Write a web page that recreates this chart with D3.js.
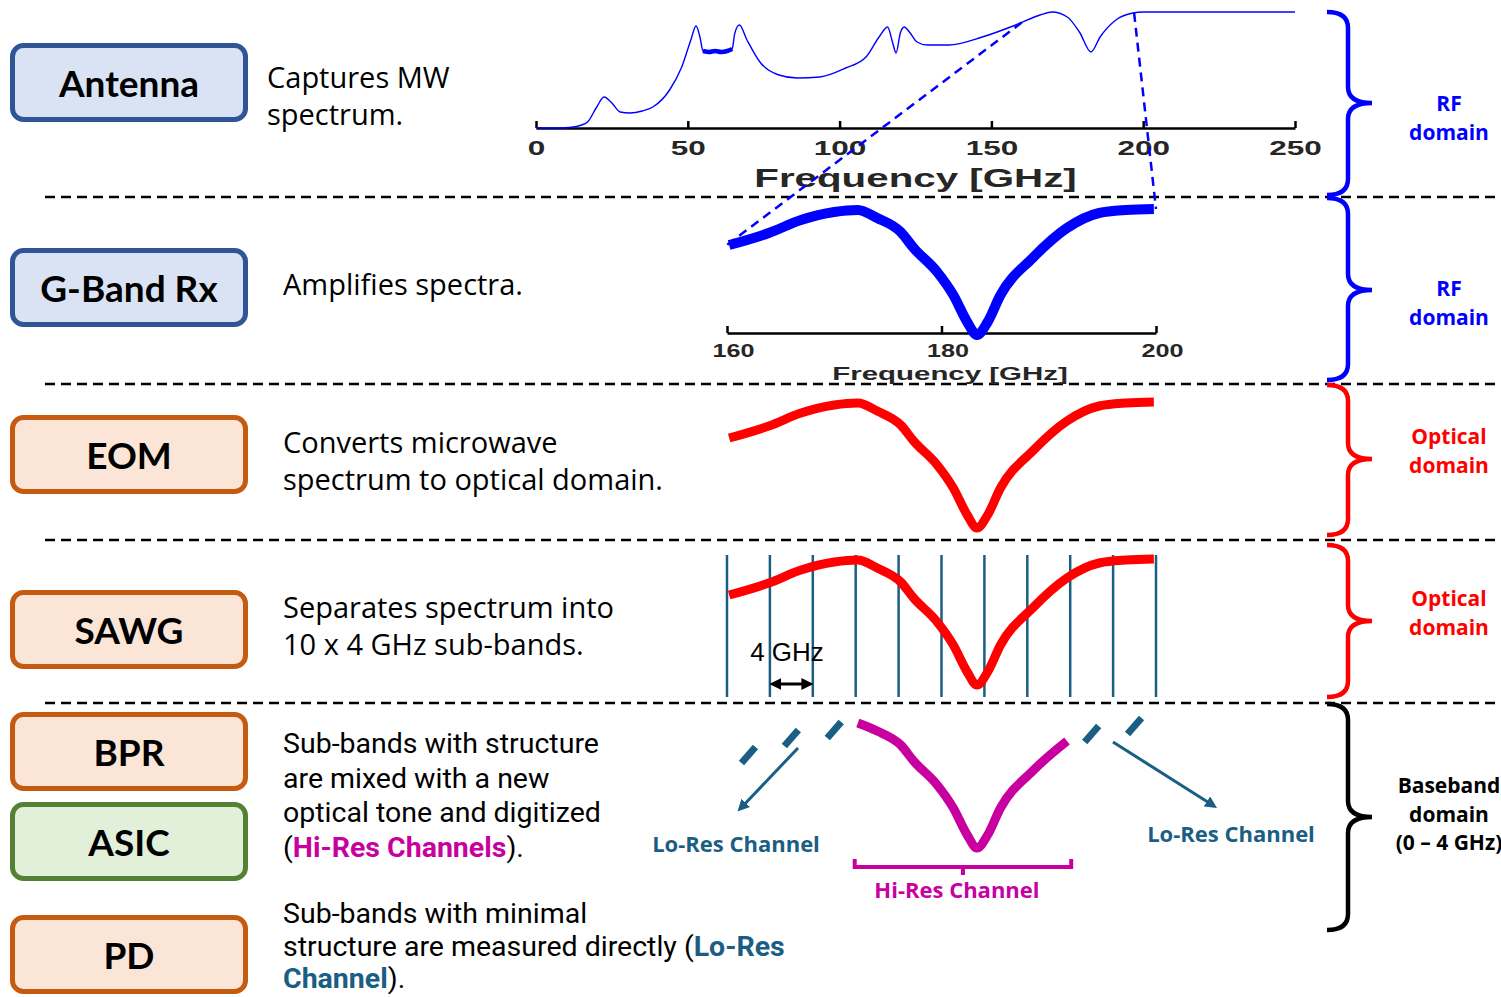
<!DOCTYPE html>
<html>
<head>
<meta charset="utf-8">
<script src="https://cdn.jsdelivr.net/npm/d3@7"></script>
<style>
  body { margin: 0; background: #fff; }
  svg { display: block; }
</style>
</head>
<body>
<script>
// ---- data ----
var blocks = ["Antenna", "G-Band Rx", "EOM", "SAWG", "BPR", "ASIC", "PD"];
var blockKind = ["rf", "rf", "opt", "opt", "opt", "asic", "opt"];

// "|" toggles the highlighted (bold, coloured) part
var descText = [
  ["Captures MW", "spectrum."],
  ["Amplifies spectra."],
  ["Converts microwave", "spectrum to optical domain."],
  ["Separates spectrum into", "10 x 4 GHz sub-bands."],
  ["Sub-bands with structure", "are mixed with a new", "optical tone and digitized", "(|Hi-Res Channels|)."],
  ["Sub-bands with minimal", "structure are measured directly (|Lo-Res", "Channel|)."]
];

var domainNames = [["RF", "domain"], ["RF", "domain"], ["Optical", "domain"], ["Optical", "domain"],
  ["Baseband", "domain", "(0 \u2013 4 GHz)"]];

// RF spectrum seen by the antenna: [GHz, amplitude]
var rfTicks = [0, 50, 100, 150, 200, 250];
var rfSpectrum = [
  [0, 0], [8, 0], [11, 0.5], [15, 3], [17, 6], [20, 21], [22.4, 31], [25, 25], [27.7, 16], [31, 15],
  [35, 17], [38.5, 21], [44, 38], [48, 61], [51, 88], [52.7, 102], [54, 91], [55, 77], [57, 76],
  [59, 77], [61, 76], [63, 77], [64.6, 79], [65.5, 95], [67, 103], [69.5, 88], [74, 65], [80, 53],
  [86, 50], [93.5, 51], [102, 60], [108.7, 71], [113, 91], [115.8, 101], [117.5, 85], [118.6, 75],
  [120, 95], [121.3, 101], [123, 96], [125.5, 86], [128.8, 83], [136, 83], [147, 91], [158, 103],
  [166, 113], [170, 116], [175, 111], [179, 96], [182.8, 76], [185.8, 91], [191, 108], [196.6, 115],
  [200, 116], [250, 116]
];
var rfPlateau = [55, 64.6];

// G-band zoom: [GHz, amplitude]
var gbTicks = [160, 180, 200];
var gbSpectrum = [
  [160.2, 95], [163.9, 107], [166.9, 120], [170, 128], [172.2, 130], [174, 122], [176.2, 108],
  [177.4, 92], [179.6, 68], [181.1, 45], [182.4, 18], [183.3, 5], [184.3, 18], [185.5, 45],
  [188.5, 82], [191.7, 112], [194.7, 127], [197.2, 130], [199.8, 131]
];
// zoom links: RF GHz -> G-band GHz
var zoomFrom = [160, 197];
var zoomTo = [160, 200];

var subBandEdges = [160, 164, 168, 172, 176, 180, 184, 188, 192, 196, 200];
var hiResBand = [172, 192];
var loResCenters = [162, 166, 170, 194, 198];
var loResLevel = [101, 118, 126, 122, 130];

// ---- layout ----
var W = 1501, H = 997;
var blockTop = [43, 248, 415, 590, 712, 802, 915];
var descX = [267, 283, 283, 283, 283, 283];
var descY = [88, 295, 453, 618, 753, 923];
var descGap = [37, 37, 37, 37, 34.7, 32.5];
var descHi = [null, null, null, null, "#c8009f", "#1b5e83"];
var sepY = [197, 384, 540, 703];
var braceSpan = [[12, 195, 103], [198, 380, 290], [385, 535, 459], [545, 697, 621], [704, 930, 817]];
var domainY = [103, 288, 436, 598, 785];
var domainColor = ["#0000ff", "#0000ff", "#ff0000", "#ff0000", "#000000"];
var gBase = 340, eomBase = 533, sawgBase = 690, bbBase = 853, loBase = 856;

var teal = "#1b5e83", magenta = "#c8009f";

var svg = d3.select("body").append("svg").attr("width", W).attr("height", H);
var defs = svg.append("defs");

function marker(id, color) {
  defs.append("marker").attr("id", id)
    .attr("viewBox", "0 0 10 10").attr("refX", 7).attr("refY", 5)
    .attr("markerWidth", 4).attr("markerHeight", 4)
    .attr("orient", "auto-start-reverse")
    .append("path").attr("d", "M0,0 L10,5 L0,10 z").attr("fill", color);
}
marker("arrBlack", "#000");
marker("arrTeal", teal);

// separators
svg.selectAll(".sep").data(sepY).enter().append("line")
  .attr("x1", 45).attr("x2", W)
  .attr("y1", function(d) { return d; }).attr("y2", function(d) { return d; })
  .attr("stroke", "#000").attr("stroke-width", 2.5).attr("stroke-dasharray", "10,6");

// blocks
var blockStyle = {
  rf: { fill: "#dae3f3", stroke: "#2f5597" },
  opt: { fill: "#fbe5d6", stroke: "#c55a11" },
  asic: { fill: "#e2f0d9", stroke: "#548235" }
};
var bg = svg.selectAll(".block").data(blocks).enter().append("g");
bg.append("rect")
  .attr("x", 12.5).attr("y", function(d, i) { return blockTop[i] + 2.5; })
  .attr("width", 233).attr("height", 74).attr("rx", 11)
  .attr("fill", function(d, i) { return blockStyle[blockKind[i]].fill; })
  .attr("stroke", function(d, i) { return blockStyle[blockKind[i]].stroke; })
  .attr("stroke-width", 5);
bg.append("text")
  .attr("x", 129).attr("y", function(d, i) { return blockTop[i] + 39.5; })
  .attr("text-anchor", "middle").attr("dominant-baseline", "central")
  .style("font-family", "Lato").style("font-weight", 700).style("font-size", "37px")
  .text(function(d) { return d; });

// descriptions
descText.forEach(function(lines, i) {
  var t = svg.append("text")
    .attr("x", descX[i]).attr("y", descY[i])
    .style("font-family", i < 4 ? "'Open Sans'" : "Roboto")
    .style("font-size", i < 4 ? "29px" : "28.5px")
    .attr("fill", "#000");
  var hi = false;
  lines.forEach(function(line, j) {
    line.split("|").forEach(function(p, k) {
      if (k > 0) hi = !hi;
      var ts = t.append("tspan").text(p);
      if (k === 0) ts.attr("x", descX[i]).attr("y", descY[i] + j * descGap[i]);
      if (hi) ts.attr("fill", descHi[i]).style("font-weight", 700);
    });
  });
});

// ---- RF spectrum plot ----
var xRF = d3.scaleLinear().domain([0, 250]).range([536, 1295]);
var yRF = d3.scaleLinear().domain([0, 120]).range([128, 8]);
var rfLine = d3.line().x(function(d) { return xRF(d[0]); }).y(function(d) { return yRF(d[1]); })
  .curve(d3.curveMonotoneX);

var axRF = svg.append("g").attr("transform", "translate(0,128)")
  .call(d3.axisBottom(xRF).tickValues(rfTicks).tickSize(-7).tickSizeOuter(0));
axRF.select(".domain").attr("stroke-width", 2.5).attr("stroke", "#000");
axRF.selectAll(".tick line").attr("stroke-width", 2.5).attr("stroke", "#000");
axRF.selectAll(".tick text")
  .attr("y", 0).attr("dy", 0)
  .attr("transform", "translate(0,27) scale(1.5,1)")
  .attr("fill", "#262626")
  .style("font-family", "'Liberation Sans', Arial").style("font-weight", 700).style("font-size", "21px");
svg.append("text")
  .attr("transform", "translate(" + ((xRF.range()[0] + xRF.range()[1]) / 2) + ",187) scale(1.55,1)")
  .attr("text-anchor", "middle").attr("fill", "#262626")
  .style("font-family", "'Liberation Sans', Arial").style("font-weight", 700).style("font-size", "26px")
  .text("Frequency [GHz]");

svg.append("path").datum(rfSpectrum).attr("d", rfLine)
  .attr("fill", "none").attr("stroke", "#0000ff").attr("stroke-width", 1.4);
svg.append("path")
  .datum(rfSpectrum.filter(function(d) { return d[0] >= rfPlateau[0] && d[0] <= rfPlateau[1]; }))
  .attr("d", rfLine).attr("fill", "none").attr("stroke", "#0000ff").attr("stroke-width", 4.5);

// ---- G-band and lower panels ----
var xG = d3.scaleLinear().domain([160, 200]).range([727, 1156]);
function panelLine(base) {
  return d3.line().x(function(d) { return xG(d[0]); }).y(function(d) { return base - d[1]; })
    .curve(d3.curveMonotoneX);
}
function interp(data, x) {
  var i = d3.bisector(function(d) { return d[0]; }).left(data, x);
  if (i <= 0) return data[0][1];
  if (i >= data.length) return data[data.length - 1][1];
  var a = data[i - 1], b = data[i], t = (x - a[0]) / (b[0] - a[0]);
  return a[1] + t * (b[1] - a[1]);
}

// zoom links (dashed)
zoomFrom.forEach(function(f, i) {
  svg.append("line")
    .attr("x1", xRF(f)).attr("y1", yRF(interp(rfSpectrum, f)))
    .attr("x2", xG(zoomTo[i])).attr("y2", gBase - interp(gbSpectrum, zoomTo[i]))
    .attr("stroke", "#0000ff").attr("stroke-width", 2.5).attr("stroke-dasharray", "9,6");
});

var axG = svg.append("g").attr("transform", "translate(0,333)")
  .call(d3.axisBottom(xG).tickValues(gbTicks).tickSize(-7).tickSizeOuter(0));
axG.select(".domain").attr("stroke-width", 2.5).attr("stroke", "#000");
axG.selectAll(".tick line").attr("stroke-width", 2.5).attr("stroke", "#000");
axG.selectAll(".tick text")
  .attr("y", 0).attr("dy", 0)
  .attr("transform", "translate(6,24) scale(1.4,1)")
  .attr("fill", "#262626")
  .style("font-family", "'Liberation Sans', Arial").style("font-weight", 700).style("font-size", "18px");
svg.append("text")
  .attr("transform", "translate(950,380) scale(1.55,1)")
  .attr("text-anchor", "middle").attr("fill", "#262626")
  .style("font-family", "'Liberation Sans', Arial").style("font-weight", 700).style("font-size", "19px")
  .text("Frequency [GHz]");

svg.append("path").datum(gbSpectrum).attr("d", panelLine(gBase))
  .attr("fill", "none").attr("stroke", "#0000ff").attr("stroke-width", 10).attr("stroke-linejoin", "round");

// EOM
svg.append("path").datum(gbSpectrum).attr("d", panelLine(eomBase))
  .attr("fill", "none").attr("stroke", "#ff0000").attr("stroke-width", 9).attr("stroke-linejoin", "round");

// SAWG
svg.selectAll(".sb").data(subBandEdges).enter().append("line")
  .attr("x1", function(d) { return xG(d); }).attr("x2", function(d) { return xG(d); })
  .attr("y1", 555).attr("y2", 697)
  .attr("stroke", teal).attr("stroke-width", 2.5);
svg.append("path").datum(gbSpectrum).attr("d", panelLine(sawgBase))
  .attr("fill", "none").attr("stroke", "#ff0000").attr("stroke-width", 9).attr("stroke-linejoin", "round");
svg.append("text")
  .attr("x", 787).attr("y", 661).attr("text-anchor", "middle")
  .style("font-family", "'Liberation Sans', Arial").style("font-size", "26px")
  .text("4 GHz");
svg.append("line")
  .attr("x1", xG(subBandEdges[1]) + 3).attr("x2", xG(subBandEdges[2]) - 3)
  .attr("y1", 684).attr("y2", 684)
  .attr("stroke", "#000").attr("stroke-width", 3)
  .attr("marker-start", "url(#arrBlack)").attr("marker-end", "url(#arrBlack)");

// baseband
svg.append("path")
  .datum(gbSpectrum.filter(function(d) { return d[0] >= hiResBand[0] && d[0] <= hiResBand[1]; }))
  .attr("d", panelLine(bbBase))
  .attr("fill", "none").attr("stroke", magenta).attr("stroke-width", 9).attr("stroke-linejoin", "round");
var hx0 = xG(hiResBand[0]) - 1, hx1 = xG(hiResBand[1]) + 1, hm = (hx0 + hx1) / 2;
svg.append("path")
  .attr("d", "M" + hx0 + ",859 V867 H" + hx1 + " V859 M" + hm + ",867 V875")
  .attr("fill", "none").attr("stroke", magenta).attr("stroke-width", 4);
svg.append("text")
  .attr("x", hm - 6).attr("y", 898).attr("text-anchor", "middle").attr("fill", magenta)
  .style("font-family", "'Open Sans'").style("font-weight", 700).style("font-size", "22px")
  .text("Hi-Res Channel");

svg.selectAll(".lores").data(loResCenters).enter().append("line")
  .attr("x1", function(d) { return xG(d) - 7; })
  .attr("x2", function(d) { return xG(d) + 7; })
  .attr("y1", function(d, i) { return loBase - loResLevel[i] + 8; })
  .attr("y2", function(d, i) { return loBase - loResLevel[i] - 8; })
  .attr("stroke", teal).attr("stroke-width", 7);

svg.append("line").attr("x1", 798).attr("y1", 748).attr("x2", 740).attr("y2", 809)
  .attr("stroke", teal).attr("stroke-width", 3).attr("marker-end", "url(#arrTeal)");
svg.append("line").attr("x1", 1113).attr("y1", 742).attr("x2", 1214).attr("y2", 806)
  .attr("stroke", teal).attr("stroke-width", 3).attr("marker-end", "url(#arrTeal)");
[[736, 852], [1231, 842]].forEach(function(p) {
  svg.append("text").attr("x", p[0]).attr("y", p[1]).attr("text-anchor", "middle").attr("fill", teal)
    .style("font-family", "'Open Sans'").style("font-weight", 700).style("font-size", "22px")
    .text("Lo-Res Channel");
});

// ---- braces and domain labels ----
function bracePath(y0, y1, ym) {
  var xl = 1327, xv = 1348, xt = 1372, r = 16;
  return "M" + xl + "," + y0 + " Q" + xv + "," + y0 + " " + xv + "," + (y0 + r) +
    " L" + xv + "," + (ym - r) + " Q" + xv + "," + ym + " " + xt + "," + ym +
    " Q" + xv + "," + ym + " " + xv + "," + (ym + r) +
    " L" + xv + "," + (y1 - r) + " Q" + xv + "," + y1 + " " + xl + "," + y1;
}
braceSpan.forEach(function(b, i) {
  svg.append("path").attr("d", bracePath(b[0], b[1], b[2]))
    .attr("fill", "none").attr("stroke", domainColor[i]).attr("stroke-width", 4.5);
  domainNames[i].forEach(function(s, j) {
    svg.append("text")
      .attr("x", 1449).attr("y", domainY[i] + j * 28.5)
      .attr("text-anchor", "middle").attr("dominant-baseline", "central")
      .attr("fill", domainColor[i])
      .style("font-family", "'Open Sans'").style("font-weight", 700).style("font-size", "21px")
      .text(s);
  });
});
</script>
</body>
</html>
